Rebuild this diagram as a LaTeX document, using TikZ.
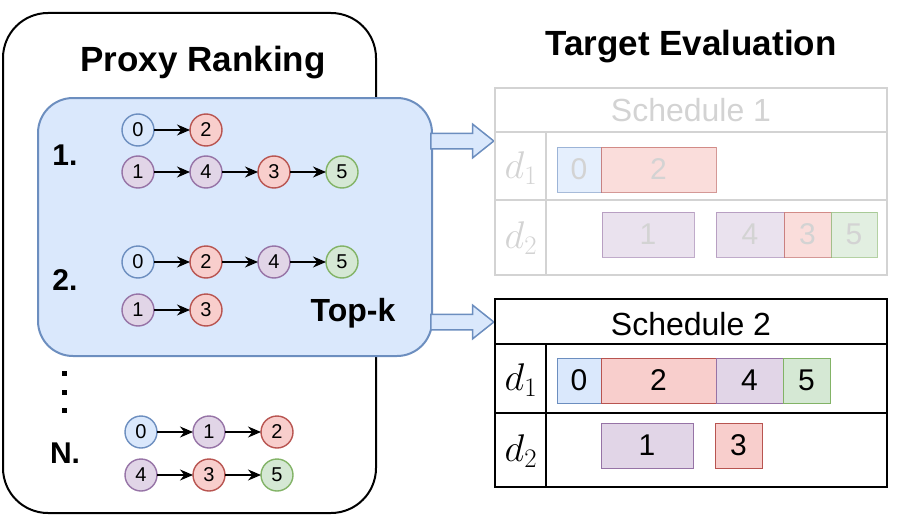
\documentclass[tikz,border=0pt]{standalone}
\usepackage{graphicx}
\usepackage[no-math]{fontspec}
\setmainfont{Liberation Sans}
\usetikzlibrary{positioning,arrows.meta,shapes.arrows}

\definecolor{bluL}{HTML}{DAE8FC}
\definecolor{bluD}{HTML}{6C8EBF}
\definecolor{redL}{HTML}{F8CECC}
\definecolor{redD}{HTML}{B85450}
\definecolor{purL}{HTML}{E1D5E7}
\definecolor{purD}{HTML}{9673A6}
\definecolor{grnL}{HTML}{D5E8D4}
\definecolor{grnD}{HTML}{82B366}
\definecolor{fadeG}{HTML}{D3D3D3}

\newcommand\devlab[1]{\scalebox{1.55}{$d_{#1}$}}

\tikzset{
  job/.style={circle, draw, line width=1.4pt, minimum size=32pt, inner sep=0pt,
    outer sep=0pt, font=\fontsize{20}{20}\selectfont},
  jb/.style={job, draw=bluD, fill=bluL},
  jr/.style={job, draw=redD, fill=redL},
  jp/.style={job, draw=purD, fill=purL},
  jg/.style={job, draw=grnD, fill=grnL},
  dep/.style={-{Stealth[length=13pt,width=11pt]}, line width=1.1pt},
  rank/.style={font=\fontsize{30}{30}\selectfont\bfseries},
  heading/.style={font=\fontsize{35}{35}\selectfont\bfseries},
  bar/.style={draw, line width=1pt, inner sep=0pt, outer sep=0pt,
    minimum height=45pt, anchor=north west, font=\fontsize{30}{30}\selectfont},
  bb/.style={bar, draw=bluD, fill=bluL},
  br/.style={bar, draw=redD, fill=redL},
  bp/.style={bar, draw=purD, fill=purL},
  bg/.style={bar, draw=grnD, fill=grnL},
  faded/.style={fill opacity=.7, draw opacity=.6, text opacity=1, text=fadeG},
  grid/.style={line width=2pt},
  dlab/.style={font=\fontsize{24}{24}\selectfont},
  sched/.style={font=\fontsize{32}{32}\selectfont},
  bigarrow/.style={single arrow, draw=bluD, fill=bluL, line width=1.5pt,
    minimum height=63pt, single arrow head extend=9pt, inner xsep=0pt,
    inner ysep=7pt, text height=0pt, text depth=0pt, single arrow tip angle=77}
}

\begin{document}
\begin{tikzpicture}[x=1pt, y=-1pt]
  \useasboundingbox (0,0) rectangle (902,519);

  % proxy side
  \draw[line width=2pt, rounded corners=45pt] (3,13) rectangle (376,513);
  \node[heading] (proxy) at (203,63) {Proxy Ranking};
  \draw[draw=bluD, fill=bluL, line width=2pt, rounded corners=35pt] (38,98) rectangle (432,356);

  % ranking 1
  \node[rank] (r1) at (65,155) {1.};
  \node[jb] (a0) at (138,130) {0};
  \node[jr, right=36pt of a0] (a2) {2};
  \node[jp] (a1) at (138,172) {1};
  \node[jp, right=36pt of a1] (a4) {4};
  \node[jr, right=36pt of a4] (a3) {3};
  \node[jg, right=36pt of a3] (a5) {5};
  \draw[dep] (a0) -- (a2);
  \draw[dep] (a1) -- (a4);
  \draw[dep] (a4) -- (a3);
  \draw[dep] (a3) -- (a5);

  % ranking 2
  \node[rank] (r2) at (65,280) {2.};
  \node[jb] (b0) at (138,262) {0};
  \node[jr, right=36pt of b0] (b2) {2};
  \node[jp, right=36pt of b2] (b4) {4};
  \node[jg, right=36pt of b4] (b5) {5};
  \node[jp] (b1) at (138,310) {1};
  \node[jr, right=36pt of b1] (b3) {3};
  \draw[dep] (b0) -- (b2);
  \draw[dep] (b2) -- (b4);
  \draw[dep] (b4) -- (b5);
  \draw[dep] (b1) -- (b3);
  \node[font=\fontsize{32}{32}\selectfont\bfseries] (topk) at (353,313) {Top-k};

  % ranking N
  \foreach \y in {373,392,410}
    \fill (61.5,\y-2.5) rectangle ++(5,5);
  \node[rank] (rN) at (65,453) {N.};
  \node[jb] (c0) at (141,432) {0};
  \node[jp, right=36pt of c0] (c1) {1};
  \node[jr, right=36pt of c1] (c2) {2};
  \node[jp] (c4) at (141,475) {4};
  \node[jr, right=36pt of c4] (c3) {3};
  \node[jg, right=36pt of c3] (c5) {5};
  \draw[dep] (c0) -- (c1);
  \draw[dep] (c1) -- (c2);
  \draw[dep] (c4) -- (c3);
  \draw[dep] (c3) -- (c5);

  % target side
  \node[heading] (target) at (691,47) {Target Evaluation};
  \node[bigarrow, anchor=tip] (go1) at (495,141) {};
  \node[bigarrow, anchor=tip] (go2) at (495,322) {};

  % schedule 1 (faded)
  \draw[grid, draw=fadeG] (495,88) rectangle (887,275);
  \draw[grid, draw=fadeG] (495,132) -- (887,132) (495,200) -- (887,200)
    (546,132) -- (546,275);
  \node[sched, text=fadeG] (s1head) at (691,110) {Schedule 1};
  \node[dlab, text=fadeG] (s1d1) at (521,168) {\devlab{1}};
  \node[dlab, text=fadeG] (s1d2) at (521,238) {\devlab{2}};
  \node[bb, faded, minimum width=44pt] (s1b0) at (557,147) {0};
  \node[br, faded, minimum width=115pt, right=0pt of s1b0] (s1b2) {2};
  \node[bp, faded, minimum width=92pt] (s1b1) at (602,212) {1};
  \node[bp, faded, minimum width=68pt] (s1b4) at (716,212) {4};
  \node[br, faded, minimum width=47pt, right=0pt of s1b4] (s1b3) {3};
  \node[bg, faded, minimum width=46pt, right=0pt of s1b3] (s1b5) {5};

  % schedule 2
  \draw[grid] (495,299) rectangle (887,487);
  \draw[grid] (495,344) -- (887,344) (495,413) -- (887,413) (546,344) -- (546,487);
  \node[sched] (s2head) at (691,324) {Schedule 2};
  \node[dlab] (s2d1) at (521,380) {\devlab{1}};
  \node[dlab] (s2d2) at (521,451) {\devlab{2}};
  \node[bb, minimum width=44pt] (s2b0) at (557,358) {0};
  \node[br, minimum width=115pt, right=0pt of s2b0] (s2b2) {2};
  \node[bp, minimum width=67pt, right=0pt of s2b2] (s2b4) {4};
  \node[bg, minimum width=47pt, right=0pt of s2b4] (s2b5) {5};
  \node[bp, minimum width=92pt] (s2b1) at (601,423) {1};
  \node[br, minimum width=47pt] (s2b3) at (715,423) {3};
\end{tikzpicture}
\end{document}
